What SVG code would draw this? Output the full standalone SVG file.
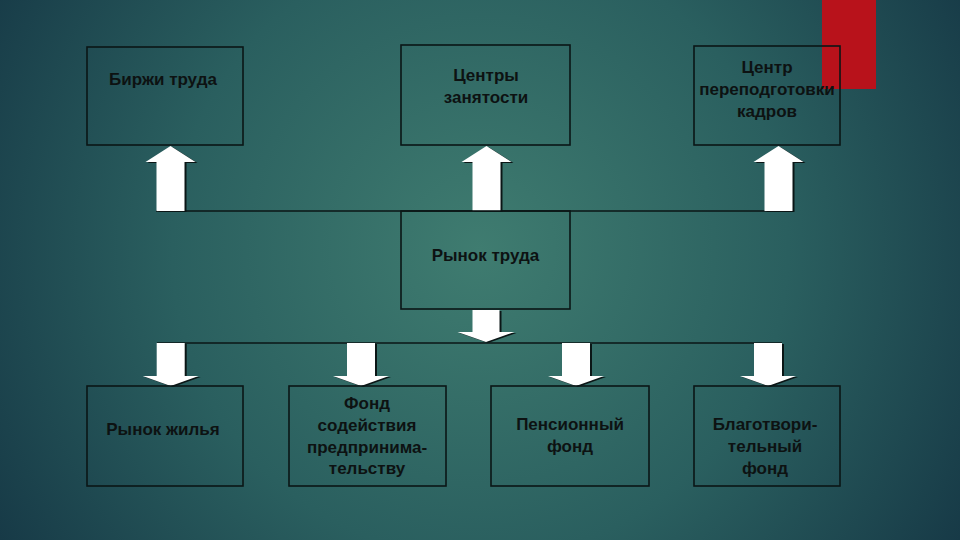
<svg xmlns="http://www.w3.org/2000/svg" xmlns:xlink="http://www.w3.org/1999/xlink" width="960" height="540" viewBox="0 0 960 540">
<defs>
<radialGradient id="bg" cx="480" cy="250" r="560" gradientUnits="userSpaceOnUse">
<stop offset="0" stop-color="#3f7c70"/>
<stop offset="0.55" stop-color="#2a5f5f"/>
<stop offset="1" stop-color="#173a47"/>
</radialGradient>
<path id="up" d="M0,0 L25,16 L14,16 L14,65 L-14,65 L-14,16 L-25,16 Z"/>
<path id="down" d="M-14,0 L14,0 L14,33 L28,33 L0,43 L-28,33 L-14,33 Z"/>
<path id="cdown" d="M-13.5,0 L13.5,0 L13.5,22 L28.5,22 L0,32 L-28.5,22 L-13.5,22 Z"/>
<style>
.box{fill:none;stroke:#0b1616;stroke-width:1.6}
.ln{stroke:#0b1616;stroke-width:1.6;fill:none}
.t{font-family:"Liberation Sans",Arial,sans-serif;font-weight:bold;font-size:17px;fill:#0d1212;text-anchor:middle}
.ar{fill:#ffffff}
.sh{fill:#0b1616}
</style>
</defs>
<rect width="960" height="540" fill="url(#bg)"/>
<rect x="822" y="0" width="54" height="89" fill="#b8121b"/>

<g id="connectors">
<line class="ln" x1="156" y1="211" x2="792" y2="211"/>
<line class="ln" x1="157" y1="343" x2="782" y2="343"/>
<use xlink:href="#up" class="sh" x="172.5" y="147"/>
<use xlink:href="#up" class="ar" x="170.5" y="146"/>
<use xlink:href="#up" class="sh" x="488.5" y="147"/>
<use xlink:href="#up" class="ar" x="486.5" y="146"/>
<use xlink:href="#up" class="sh" x="780.5" y="147"/>
<use xlink:href="#up" class="ar" x="778.5" y="146"/>
<use xlink:href="#cdown" class="sh" x="488" y="311"/>
<use xlink:href="#cdown" class="ar" x="486" y="310"/>
<use xlink:href="#down" class="sh" x="172.7" y="344"/>
<use xlink:href="#down" class="ar" x="170.7" y="343"/>
<use xlink:href="#down" class="sh" x="363" y="344"/>
<use xlink:href="#down" class="ar" x="361" y="343"/>
<use xlink:href="#down" class="sh" x="578" y="344"/>
<use xlink:href="#down" class="ar" x="576" y="343"/>
<use xlink:href="#down" class="sh" x="770" y="344"/>
<use xlink:href="#down" class="ar" x="768" y="343"/>
</g>

<g id="birzhi">
<rect class="box" x="87" y="47" width="156" height="98"/>
<text class="t" x="163" y="85">Биржи труда</text>
</g>
<g id="centry">
<rect class="box" x="401" y="45" width="169" height="100"/>
<text class="t" x="486" y="81">Центры</text>
<text class="t" x="486" y="103">занятости</text>
</g>
<g id="centr-perepodgotovki">
<rect class="box" x="694" y="46" width="146" height="99"/>
<text class="t" x="767" y="73">Центр</text>
<text class="t" x="767" y="95">переподготовки</text>
<text class="t" x="767" y="117">кадров</text>
</g>
<g id="rynok-truda">
<rect class="box" x="401" y="211" width="169" height="98"/>
<text class="t" x="485.5" y="261">Рынок труда</text>
</g>
<g id="rynok-zhilya">
<rect class="box" x="87" y="386" width="156" height="100"/>
<text class="t" x="163" y="435">Рынок жилья</text>
</g>
<g id="fond-sodeistviya">
<rect class="box" x="289" y="386" width="157" height="100"/>
<text class="t" x="367" y="409">Фонд</text>
<text class="t" x="367" y="431">содействия</text>
<text class="t" x="367" y="453">предпринима-</text>
<text class="t" x="367" y="474">тельству</text>
</g>
<g id="pensionny-fond">
<rect class="box" x="491" y="386" width="158" height="100"/>
<text class="t" x="570" y="430">Пенсионный</text>
<text class="t" x="570" y="452">фонд</text>
</g>
<g id="blagotvoritelny-fond">
<rect class="box" x="694" y="386" width="146" height="100"/>
<text class="t" x="765" y="430">Благотвори-</text>
<text class="t" x="765" y="452">тельный</text>
<text class="t" x="765" y="474">фонд</text>
</g>
</svg>
